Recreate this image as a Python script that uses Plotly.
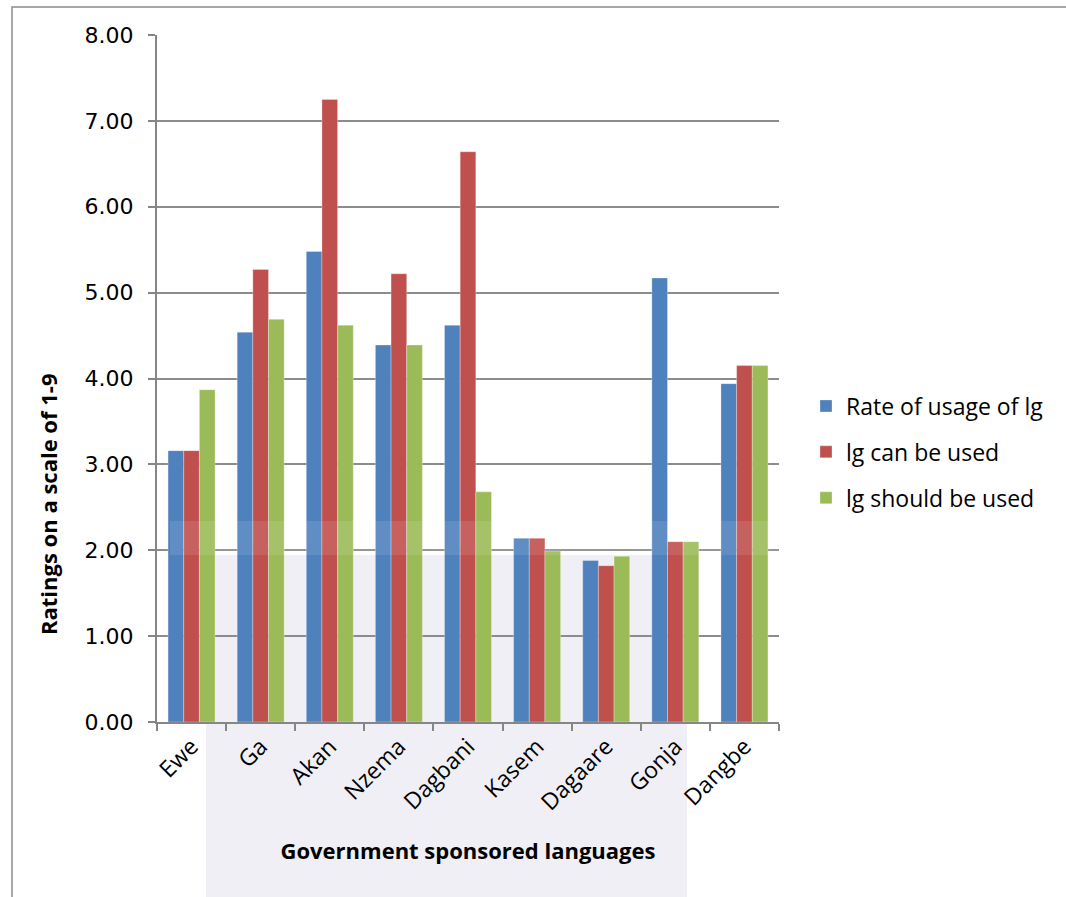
import plotly.graph_objects as go

categories = ["Ewe", "Ga", "Akan", "Nzema", "Dagbani", "Kasem", "Dagaare", "Gonja", "Dangbe"]
rate_of_usage = [3.16, 4.54, 5.48, 4.39, 4.62, 2.14, 1.88, 5.17, 3.94]
can_be_used = [3.16, 5.27, 7.25, 5.22, 6.64, 2.14, 1.82, 2.10, 4.15]
should_be_used = [3.87, 4.69, 4.62, 4.39, 2.68, 1.99, 1.93, 2.10, 4.15]
series_names = ["Rate of usage of lg", "lg can be used", "lg should be used"]
series_colors = ["#4F81BD", "#C0504D", "#9BBB59"]
y_ticks = [0, 1, 2, 3, 4, 5, 6, 7, 8]

fig = go.Figure()
for i, (name, vals, col) in enumerate(zip(series_names, [rate_of_usage, can_be_used, should_be_used], series_colors)):
    fig.add_trace(go.Bar(
        x=categories, y=vals, name=name, legendgroup=str(i),
        marker=dict(color=col, line=dict(color="rgba(255,255,255,0.5)", width=0.6)),
    ))

W, H = 1066, 897
L, R, T, B = 157, 779, 35, 722

def px(xp):
    return (xp - L) / (R - L)

def py(yp):
    return (B - yp) / (B - T)

fig.update_layout(
    width=W, height=H,
    margin=dict(l=L, r=W - R, t=T, b=H - B, pad=0),
    paper_bgcolor="white", plot_bgcolor="rgba(0,0,0,0)",
    barmode="group", bargap=0.32, bargroupgap=0,
    font=dict(family="Open Sans, sans-serif", color="#000000", size=20),
    showlegend=True,
    legend=dict(
        x=px(806), y=py(452), xanchor="left", yanchor="middle",
        font=dict(family="Open Sans, sans-serif", size=23, color="#000000"),
        traceorder="grouped", tracegroupgap=13,
        bgcolor="rgba(0,0,0,0)", itemwidth=30,
    ),
    xaxis=dict(
        type="category", tickson="boundaries", ticks="outside", ticklen=7,
        tickcolor="#868686", tickwidth=2, showline=True, linecolor="#868686", linewidth=2,
        showgrid=False, tickangle=-45, tickfont=dict(family="Open Sans, sans-serif", size=23),
        title=dict(text="<b>Government sponsored languages</b>", font=dict(family="Open Sans, sans-serif", size=22), standoff=28),
    ),
    yaxis=dict(
        range=[0, 8], tickvals=y_ticks, tickformat=".2f", ticks="outside", ticklen=7,
        tickcolor="#868686", tickwidth=2, showline=True, linecolor="#868686", linewidth=2,
        showgrid=True, gridcolor="#8C8C8C", gridwidth=2, zeroline=False,
        tickfont=dict(family="DejaVu Sans, sans-serif", size=22), ticklabelstandoff=10,
    ),
    annotations=[
        dict(text="<b>Ratings on a scale of 1-9</b>", xref="paper", yref="paper",
             x=px(48), y=py(505), xanchor="center", yanchor="middle", textangle=-90,
             showarrow=False, font=dict(family="Open Sans, sans-serif", size=22, color="#000000")),
    ],
    shapes=[
        dict(type="rect", xref="paper", yref="paper", x0=px(12), x1=px(1100), y0=py(7), y1=py(950),
             line=dict(color="#8C8C8C", width=1.5), fillcolor="rgba(0,0,0,0)", layer="above"),
        dict(type="rect", xref="paper", yref="paper", x0=px(206), x1=px(687), y0=py(555), y1=py(897),
             line=dict(width=0), fillcolor="#EFEFF5", layer="below"),
        dict(type="rect", xref="paper", yref="paper", x0=px(170), x1=px(779), y0=py(521), y1=py(555),
             line=dict(width=0), fillcolor="rgba(255,255,255,0.1)", layer="above"),
    ],
)

fig.write_html("out.html")
